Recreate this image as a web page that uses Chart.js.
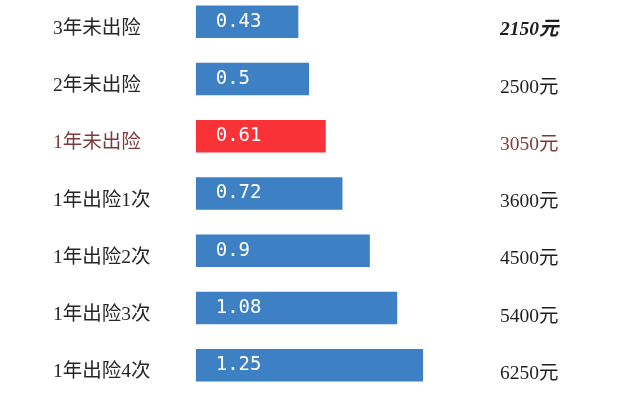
<!DOCTYPE html>
<html>
<head>
<meta charset="utf-8">
<script src="https://cdn.jsdelivr.net/npm/chart.js@4/dist/chart.umd.min.js"></script>
<style>
  html, body { margin: 0; padding: 0; background: #fff; overflow: hidden; width: 640px; height: 400px; }
  #wrap { position: absolute; left: 0; top: -7px; width: 640px; height: 401px; }
</style>
</head>
<body>
<div id="wrap"><canvas id="rateChart"></canvas></div>
<script>
// 保费系数 / 折后保费
var categories = ['3年未出险', '2年未出险', '1年未出险', '1年出险1次', '1年出险2次', '1年出险3次', '1年出险4次'];
var coefficients = [0.43, 0.5, 0.61, 0.72, 0.9, 1.08, 1.25];
var premiums = ['2150元', '2500元', '3050元', '3600元', '4500元', '5400元', '6250元'];
var highlightIdx = 2; // 1年未出险

var blue = '#3d80c3';
var red = '#f93238';
var labelFont = '"Liberation Serif", "Noto Sans CJK SC", serif';

function barColors() {
  var out = [];
  for (var i = 0; i < coefficients.length; i++) {
    out.push(i == highlightIdx ? red : blue);
  }
  return out;
}

// no extra room for the first/last label, rows fill the whole height
function fixWidth(w) {
  return function (scale) {
    scale.width = w;
    scale.paddingTop = 0;
    scale.paddingBottom = 0;
  };
}

// white value text inside each bar
var valueLabels = {
  id: 'valueLabels',
  afterDatasetsDraw: function (chart) {
    var ctx = chart.ctx;
    var meta = chart.getDatasetMeta(0);
    ctx.save();
    ctx.fillStyle = '#ffffff';
    ctx.font = '19px "DejaVu Sans Mono", monospace';
    ctx.textAlign = 'left';
    ctx.textBaseline = 'middle';
    meta.data.forEach(function (bar, i) {
      ctx.fillText(String(coefficients[i]), bar.base + 20, bar.y);
    });
    ctx.restore();
  }
};

var chart = new Chart(document.getElementById('rateChart'), {
  type: 'bar',
  data: {
    labels: categories,
    datasets: [{
      data: coefficients,
      backgroundColor: barColors(),
      borderWidth: 0,
      base: -0.245,
      barPercentage: 0.567,
      categoryPercentage: 1
    }]
  },
  options: {
    indexAxis: 'y',
    responsive: true,
    maintainAspectRatio: false,
    animation: false,
    layout: { padding: { left: 53, right: 0, top: 0, bottom: 0 } },
    plugins: {
      legend: { display: false },
      tooltip: { enabled: false }
    },
    scales: {
      x: {
        display: false,
        min: -0.245,
        max: 1.69
      },
      y: {
        position: 'left',
        grid: { display: false },
        border: { display: false },
        afterFit: fixWidth(142.7),
        ticks: {
          crossAlign: 'far',
          padding: 0,
          labelOffset: 7,
          color: function (c) { return c.index == highlightIdx ? '#7d3a3c' : '#262626'; },
          font: { family: labelFont, size: 19.5 }
        }
      },
      y2: {
        type: 'category',
        position: 'right',
        labels: premiums,
        offset: true,
        grid: { display: false },
        border: { display: false },
        afterFit: fixWidth(150),
        ticks: {
          crossAlign: 'near',
          padding: 2,
          labelOffset: 8.5,
          color: function (c) { return c.index == highlightIdx ? '#7d3a3c' : '#1e1e1e'; },
          font: function (c) {
            if (c.index == 0) return { family: labelFont, size: 19.5, weight: 'bold', style: 'italic' };
            return { family: labelFont, size: 19.5 };
          }
        }
      }
    }
  },
  plugins: [valueLabels]
});
</script>
</body>
</html>
